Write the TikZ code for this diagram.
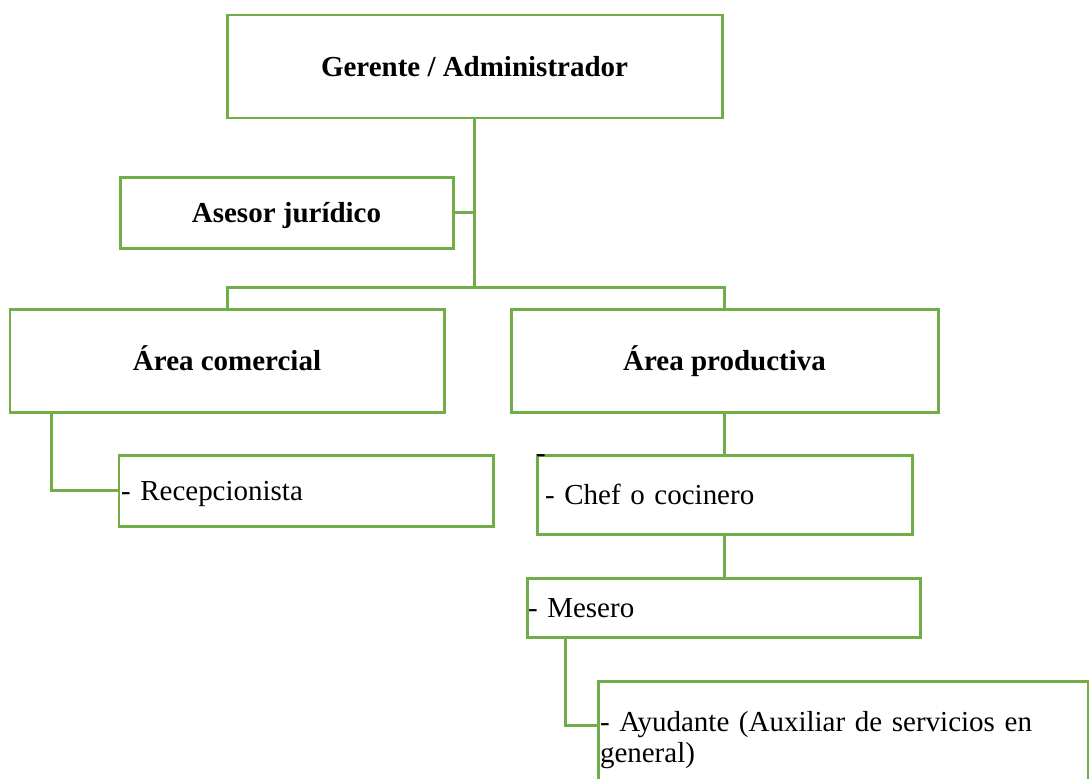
\documentclass[tikz,border=0pt]{standalone}
\usepackage{fontspec}
\setmainfont{Liberation Serif}
\usepackage{xcolor}
\usetikzlibrary{positioning, calc}
\definecolor{chartgreen}{RGB}{112, 173, 71}
\newlength{\px}
\setlength{\px}{0.414pt}

\begin{document}
\begin{tikzpicture}[
        x=1\px, y=-1\px,
        headbox/.style={rectangle, draw=chartgreen, line width=1.24pt, inner sep=0pt, align=center, text height=10.8pt, text depth=2.5pt, font=\fontsize{12}{13.8}\selectfont\bfseries},
        staffbox/.style={rectangle, draw=chartgreen, line width=1.24pt, inner ysep=0pt, align=left, font=\fontsize{12}{13.2}\selectfont},
        oneline/.style={text height=10.8pt, text depth=2.5pt},
        link/.style={draw=chartgreen, line width=1.24pt},
    ]
        \clip (0,0) rectangle (1089,778);

        \node[headbox, minimum width=495\px, minimum height=103\px] (gerente) at (474.5,66.5) {Gerente / Administrador};
        \node[headbox, minimum width=333\px, minimum height=71\px] (asesor) at (286.5,212.5) {Asesor jurídico};
        \node[headbox, minimum width=434\px, minimum height=103\px] (comercial) at (227,360.5) {Área comercial};
        \node[headbox, minimum width=427\px, minimum height=103\px] (productiva) at (724.5,360.5) {Área productiva};

        \node[staffbox, oneline, text width=370\px, inner xsep=2\px, minimum height=71\px] (recepcion) at (306,490.5) {- Recepcionista};
        \node[staffbox, oneline, text width=359\px, inner xsep=8\px, minimum height=79\px] (chef) at (724.5,494.5) {- Chef o cocinero};
        \node[staffbox, oneline, text width=391\px, inner xsep=1\px, minimum height=59\px] (mesero) at (723.5,607.5) {- Mesero};
        \node[staffbox, text width=486\px, inner xsep=2\px, minimum height=118\px] (ayudante) at (843,740)
            {\makebox[486\px][s]{- Ayudante (Auxiliar de servicios en}\\general)};

        \coordinate (split) at (474,287);

        \draw[link] (gerente.south) -- (gerente.south |- split);
        \draw[link] (asesor.east) -- (asesor.east -| split);
        \draw[link] (comercial.north) |- (split) -| (productiva.north);
        \draw[link] ([xshift=43\px]comercial.south west) |- (recepcion.west);
        \draw[link] (productiva.south) -- (chef.north);
        \draw[link] (chef.south) -- (chef.south |- mesero.north);
        \draw[link] ([xshift=40\px]mesero.south west) |- ([yshift=-46\px]ayudante.north west);

        \node[anchor=base, inner sep=0pt, font=\fontsize{12}{13.2}\selectfont] (marca) at (541,462) {-};
    \end{tikzpicture}
\end{document}
